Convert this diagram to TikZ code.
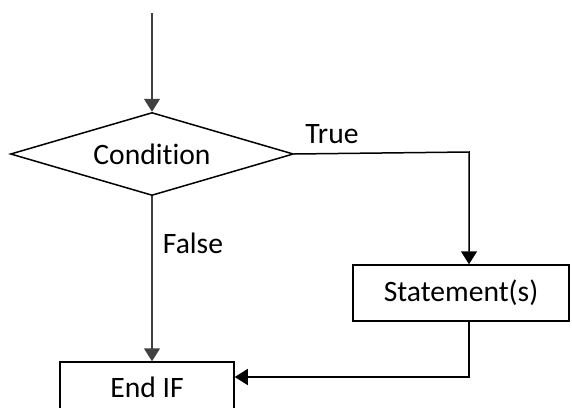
\documentclass[tikz,border=0pt]{standalone}
\usepackage{fontspec}
\setmainfont[Ligatures={NoCommon}]{Carlito}
\usepackage{tikz}
\usetikzlibrary{arrows.meta,positioning,shapes.geometric,calc}

\begin{document}
\begin{tikzpicture}[
    x=0.5pt, y=-0.5pt,
    font=\fontsize{14.8}{18}\selectfont,
    decision/.style={diamond, draw=black, line width=0.75pt, inner sep=0pt, aspect=3.4, minimum width=141.5pt, minimum height=41.5pt},
    block/.style={rectangle, draw=black, line width=0.75pt, inner sep=0pt},
    arr/.style={-{Triangle[length=6.5pt, width=8pt]}, line width=0.75pt}
]
    \useasboundingbox (0,0) rectangle (572,407);

    \coordinate (start) at (152,13);
    \node[decision] (cond) at (152,154) {Condition};
    \node[block, minimum width=108pt, minimum height=28pt] (stmt) at (461,293) {Statement(s)};
    \node[block, minimum width=87pt, minimum height=25pt] (endif) at (147,387) {End IF};
    \coordinate (tc) at (469,152);
    \coordinate (bc) at (469,377);

    \draw[arr, black!75] (start) -- (cond.north);
    % false branch
    \draw[arr, black!75] (cond.south) -- (cond.south |- endif.north);
    \node (false) at (193,243) {False};
    % true branch
    \draw[arr] (cond.east) -- (tc) -- (tc |- stmt.north);
    \node (true) at (332,134) {True};
    \draw[arr] (stmt.south -| tc) -- (bc) -- (bc -| endif.east);
\end{tikzpicture}
\end{document}
